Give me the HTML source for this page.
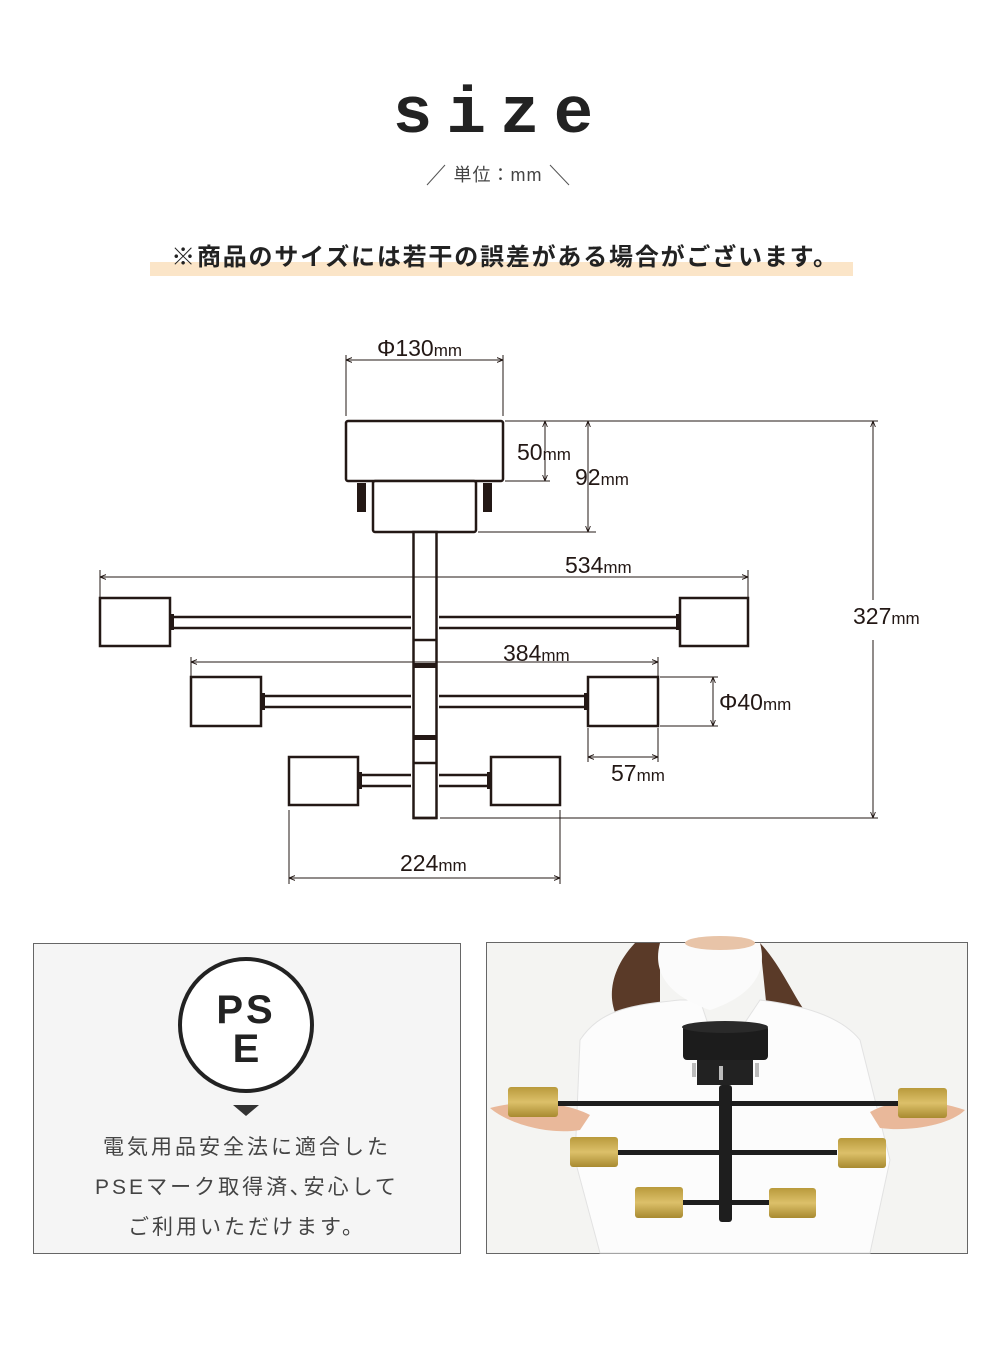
<!DOCTYPE html>
<html><head><meta charset="utf-8"><style>
body{margin:0;background:#fff;}
.w{position:relative;width:1000px;height:1345px;overflow:hidden;font-family:"Liberation Sans","Noto Sans CJK JP",sans-serif;}
</style></head><body><div class="w">
<svg width="1000" height="1345" viewBox="0 0 1000 1345" xmlns="http://www.w3.org/2000/svg" style="position:absolute;left:0;top:0">
<defs>
<marker id="a" viewBox="0 0 10 10" refX="10" refY="5" markerWidth="6" markerHeight="6" orient="auto-start-reverse"><path d="M0,1 L10,5 L0,9" fill="none" stroke="#231815" stroke-width="1.5"/></marker>
<linearGradient id="g" x1="0" y1="0" x2="0" y2="1"><stop offset="0" stop-color="#b99a3c"/><stop offset=".5" stop-color="#dcc06a"/><stop offset="1" stop-color="#a88a30"/></linearGradient>
</defs>
<text x="500" y="132" text-anchor="middle" font-family="Liberation Mono,monospace" font-weight="bold" font-size="66" letter-spacing="14" fill="#222">size</text>
<line x1="427" y1="185" x2="445" y2="165" stroke="#555" stroke-width="1"/>
<line x1="550" y1="165" x2="569" y2="185" stroke="#555" stroke-width="1"/>
<text x="498" y="181" text-anchor="middle" font-size="18" fill="#444" letter-spacing="1">単位：mm</text>
<rect x="150" y="262" width="703" height="14" fill="#fbe5c8"/>
<text x="505" y="265" text-anchor="middle" font-size="24" font-weight="bold" fill="#222" letter-spacing="1.8">※商品のサイズには若干の誤差がある場合がございます。</text>

<g stroke="#231815" fill="#fff" stroke-width="2.5">
<rect x="346" y="421" width="157" height="60" rx="2"/>
<rect x="373" y="481" width="103" height="51" rx="2"/>
<rect x="357" y="483" width="9" height="29" fill="#231815" stroke="none"/>
<rect x="483" y="483" width="9" height="29" fill="#231815" stroke="none"/>
<rect x="413.5" y="532" width="23" height="286"/>
<rect x="100" y="598" width="70" height="48"/>
<rect x="680" y="598" width="68" height="48"/>
<rect x="191" y="677" width="70" height="49"/>
<rect x="588" y="677" width="70" height="49"/>
<rect x="289" y="757" width="69" height="48"/>
<rect x="491" y="757" width="69" height="48"/>
<g fill="none">
<path d="M170 617H411M170 628H411M439 617H680M439 628H680"/>
<path d="M261 696H411M261 707H411M439 696H588M439 707H588"/>
<path d="M358 775H411M358 786H411M439 775H491M439 786H491"/>
</g>
<path d="M413 640H437M413 763H437M413 818H437" fill="none"/>
</g>
<g fill="#231815"><rect x="413" y="663" width="24" height="5"/><rect x="413" y="735" width="24" height="5"/><rect x="170" y="614" width="4" height="16"/><rect x="676" y="614" width="4" height="16"/><rect x="261" y="693" width="4" height="17"/><rect x="584" y="693" width="4" height="17"/><rect x="358" y="772" width="4" height="17"/><rect x="487" y="772" width="4" height="17"/></g>

<g stroke="#231815" stroke-width="1" fill="none">
<path d="M346 355V416M503 355V416"/>
<line x1="346" y1="360" x2="503" y2="360" marker-start="url(#a)" marker-end="url(#a)"/>
<path d="M505 421H878M505 481H550M478 532H596M440 818H878"/>
<line x1="545" y1="421" x2="545" y2="481" marker-start="url(#a)" marker-end="url(#a)"/>
<line x1="588" y1="421" x2="588" y2="532" marker-start="url(#a)" marker-end="url(#a)"/>
<line x1="873" y1="421" x2="873" y2="600" marker-start="url(#a)"/>
<line x1="873" y1="640" x2="873" y2="818" marker-end="url(#a)"/>
<path d="M100 570V598M748 570V598"/>
<line x1="100" y1="577" x2="748" y2="577" marker-start="url(#a)" marker-end="url(#a)"/>
<path d="M191 657V677M658 657V677"/>
<line x1="191" y1="662" x2="658" y2="662" marker-start="url(#a)" marker-end="url(#a)"/>
<path d="M660 677H718M660 726H718"/>
<line x1="713" y1="677" x2="713" y2="726" marker-start="url(#a)" marker-end="url(#a)"/>
<path d="M588 728V762M658 728V762"/>
<line x1="588" y1="757" x2="658" y2="757" marker-start="url(#a)" marker-end="url(#a)"/>
<path d="M289 810V884M560 810V884"/>
<line x1="289" y1="878" x2="560" y2="878" marker-start="url(#a)" marker-end="url(#a)"/>
</g>
<g fill="#231815" font-size="23">
<text x="377" y="356">Φ130<tspan font-size="17">mm</tspan></text>
<text x="517" y="460">50<tspan font-size="17">mm</tspan></text>
<text x="575" y="485">92<tspan font-size="17">mm</tspan></text>
<text x="565" y="573">534<tspan font-size="17">mm</tspan></text>
<text x="853" y="624">327<tspan font-size="17">mm</tspan></text>
<text x="503" y="661">384<tspan font-size="17">mm</tspan></text>
<text x="719" y="710">Φ40<tspan font-size="17">mm</tspan></text>
<text x="611" y="781">57<tspan font-size="17">mm</tspan></text>
<text x="400" y="871">224<tspan font-size="17">mm</tspan></text>
</g>

<rect x="33.5" y="943.5" width="427" height="310" fill="#f5f5f5" stroke="#666" stroke-width="1"/>
<circle cx="246" cy="1025" r="66" fill="#fff" stroke="#222" stroke-width="4"/>
<text x="246" y="1023" text-anchor="middle" font-size="40" font-weight="bold" fill="#222" letter-spacing="3">PS</text>
<text x="246" y="1062" text-anchor="middle" font-size="40" font-weight="bold" fill="#222">E</text>
<path d="M233 1105H259L246 1116Z" fill="#333"/>
<g font-size="21" fill="#444" text-anchor="middle" letter-spacing="3">
<text x="247" y="1154">電気用品安全法に適合した</text>
<text x="247" y="1194">PSEマーク取得済､安心して</text>
<text x="247" y="1234">ご利用いただけます。</text>
</g>

<rect x="486.5" y="942.5" width="481" height="311" fill="#f4f4f2" stroke="#666"/>
<g>
<path d="M635 943C600 980 610 1020 630 1030L660 1025L660 943Z" fill="#5a3a28"/>
<path d="M760 943C790 975 800 1020 830 1035L820 1040L770 1040L760 943Z" fill="#5a3a28"/>
<path d="M580 1040C600 1010 630 1005 680 1000L700 1000L710 1030L740 1030L760 1000C800 1005 840 1015 860 1040L890 1160L870 1253H600L575 1160Z" fill="#fcfcfc" stroke="#e2e2e2"/>
<path d="M660 943H760C770 980 740 1000 710 1010C680 1000 650 980 660 943Z" fill="#fbfbfb"/>
<ellipse cx="720" cy="943" rx="35" ry="7" fill="#e8c4a8"/>
<path d="M490 1108C520 1100 560 1100 590 1115L580 1130C550 1135 510 1125 490 1108Z" fill="#e9b89a"/>
<path d="M965 1110C930 1098 895 1098 870 1112L880 1128C910 1132 950 1125 965 1110Z" fill="#e9b89a"/>
<rect x="683" y="1025" width="85" height="35" rx="4" fill="#1c1c1c"/>
<ellipse cx="725" cy="1027" rx="43" ry="6" fill="#2a2a2a"/>
<rect x="697" y="1060" width="56" height="25" fill="#222"/>
<rect x="692" y="1063" width="4" height="14" fill="#bbb"/><rect x="719" y="1066" width="4" height="14" fill="#bbb"/><rect x="755" y="1063" width="4" height="14" fill="#bbb"/>
<rect x="719" y="1085" width="13" height="137" rx="3" fill="#1e1e1e"/>
<rect x="557" y="1101" width="343" height="5" fill="#1e1e1e"/>
<rect x="617" y="1150" width="220" height="5" fill="#1e1e1e"/>
<rect x="683" y="1200" width="90" height="5" fill="#1e1e1e"/>
<rect x="508" y="1087" width="50" height="30" rx="3" fill="url(#g)"/>
<rect x="898" y="1088" width="49" height="30" rx="3" fill="url(#g)"/>
<rect x="570" y="1137" width="48" height="30" rx="3" fill="url(#g)"/>
<rect x="838" y="1138" width="48" height="30" rx="3" fill="url(#g)"/>
<rect x="635" y="1187" width="48" height="31" rx="3" fill="url(#g)"/>
<rect x="769" y="1188" width="47" height="30" rx="3" fill="url(#g)"/>
</g>
</svg>
</div></body></html>
